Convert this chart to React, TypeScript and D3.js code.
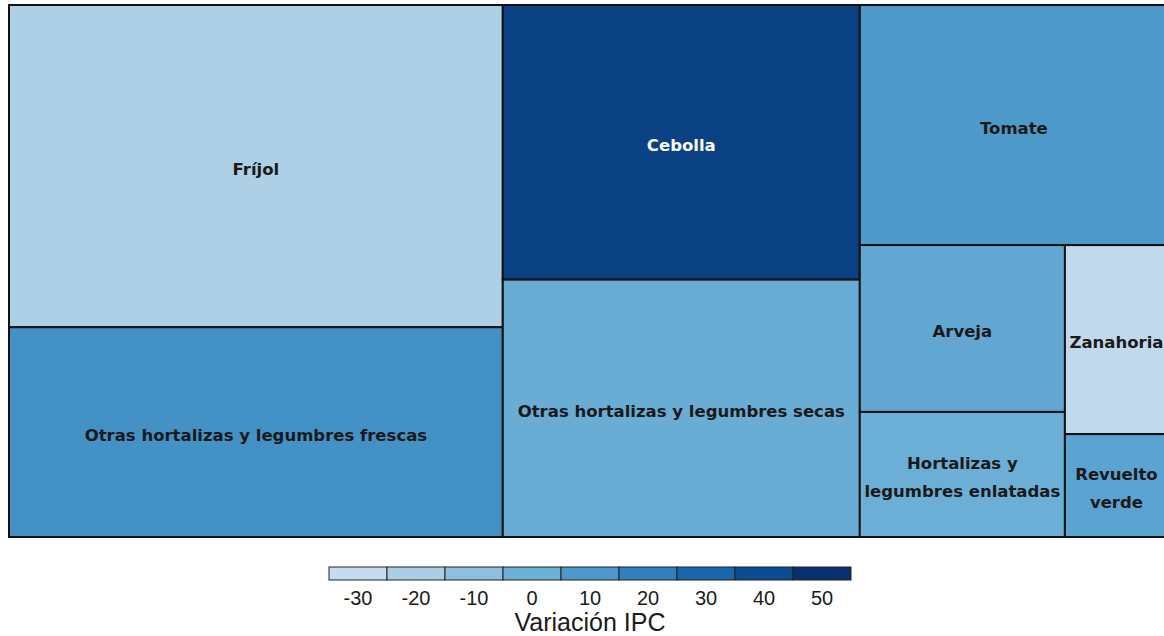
import React from "react";
import * as d3 from "d3";

// Data
const categories = [
  "Fríjol",
  "Otras hortalizas y legumbres frescas",
  "Cebolla",
  "Otras hortalizas y legumbres secas",
  "Tomate",
  "Arveja",
  "Hortalizas y legumbres enlatadas",
  "Zanahoria",
  "Revuelto verde",
];
const weights = [25.8, 16.8, 15.9, 14.9, 12.0, 5.55, 4.16, 3.16, 1.72];
const variations = [-21, 13, 44, 0.5, 9.5, 3, 0, -28, 5];
// grouping of the tiles (indices into categories)
const groups: any = [[0, 1], [2, 3], [4, [[5, 6], [7, 8]]]];
const labelLines: string[][] = [
  ["Fríjol"],
  ["Otras hortalizas y legumbres frescas"],
  ["Cebolla"],
  ["Otras hortalizas y legumbres secas"],
  ["Tomate"],
  ["Arveja"],
  ["Hortalizas y", "legumbres enlatadas"],
  ["Zanahoria"],
  ["Revuelto", "verde"],
];
const legendTicks = [-30, -20, -10, 0, 10, 20, 30, 40, 50];
const legendColors = [
  "#c6dbef", "#aacfe5", "#8dc0de", "#6baed6", "#4b98c9",
  "#3080bd", "#1866ac", "#0a4c92", "#08306b",
];

function build(g: any): any {
  if (typeof g === "number") return { name: categories[g], idx: g, value: weights[g] };
  return { children: g.map(build) };
}

export default function App() {
  const W = 1164, H = 636;
  const x0 = 9, y0 = 5, x1 = 1168, y1 = 537;
  const color = d3.scaleLinear<string>().domain(legendTicks).range(legendColors).interpolate(d3.interpolateRgb).clamp(true);

  const root = d3.hierarchy(build(groups)).sum((d: any) => d.value || 0);
  d3.treemap<any>().tile(d3.treemapSliceDice).size([x1 - x0, y1 - y0]).paddingInner(0)(root);
  const leaves = root.leaves() as any[];

  const legX = d3.scaleBand<number>().domain(legendTicks).range([329, 851]);

  return (
    <svg width={W} height={H} style={{ position: "absolute", left: 0, top: 0, background: "#fff" }}>
      <g transform={`translate(${x0},${y0})`}>
        {leaves.map((l, i) => (
          <rect key={"r" + i} x={l.x0} y={l.y0} width={l.x1 - l.x0} height={l.y1 - l.y0}
            fill={color(variations[l.data.idx])} stroke="#111" strokeWidth={2} />
        ))}
        {leaves.map((l, i) => {
          const lines = labelLines[l.data.idx];
          const cx = (l.x0 + l.x1) / 2;
          const cy = (l.y0 + l.y1) / 2 + 3;
          const lh = 28;
          const fill = variations[l.data.idx] > 30 ? "#fff" : "#1a1a1a";
          return (
            <text key={"t" + i} x={cx} textAnchor="middle" fontFamily="'DejaVu Sans', sans-serif" fontWeight="bold"
              fontSize={16.5} fill={fill}>
              {lines.map((s, j) => (
                <tspan key={j} x={cx} y={cy + (j - (lines.length - 1) / 2) * lh} dy="0.35em">{s}</tspan>
              ))}
            </text>
          );
        })}
      </g>
      <rect x={x0} y={y0} width={x1 - x0} height={y1 - y0} fill="none" stroke="#111" strokeWidth={2} />
      <g>
        {legendTicks.map((t, i) => (
          <rect key={"lg" + i} x={legX(t)} y={567} width={legX.bandwidth()} height={13}
            fill={legendColors[i]} stroke="#222" strokeWidth={1} />
        ))}
        {legendTicks.map((t, i) => (
          <text key={"lt" + i} x={(legX(t) as number) + legX.bandwidth() / 2} y={605} textAnchor="middle"
            fontFamily="'Liberation Sans', Arial, sans-serif" fontSize={20} fill="#1a1a1a">{t}</text>
        ))}
        <text x={590} y={631} textAnchor="middle" fontFamily="'Liberation Sans', Arial, sans-serif" fontSize={25} fill="#1a1a1a">
          Variación IPC
        </text>
      </g>
    </svg>
  );
}
